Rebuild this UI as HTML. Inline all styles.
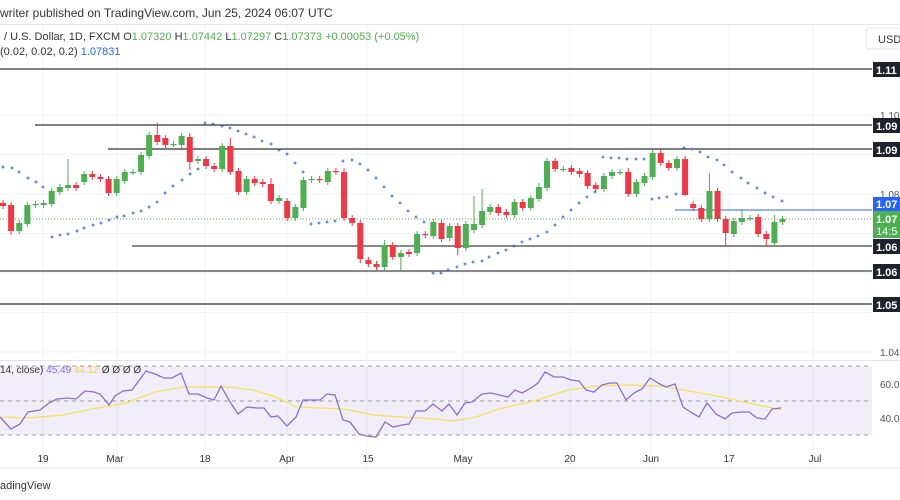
<!DOCTYPE html>
<html><head><meta charset="utf-8"><style>
html,body{margin:0;padding:0;background:#fff;width:900px;height:500px;overflow:hidden;font-family:"Liberation Sans","DejaVu Sans",sans-serif}
svg{position:absolute;left:0;top:0}
</style></head><body>
<svg id="s" width="900" height="500" viewBox="0 0 900 500" xmlns="http://www.w3.org/2000/svg" font-family="Liberation Sans, DejaVu Sans, sans-serif">
<text x="0" y="17" font-size="12" fill="#333">writer published on TradingView.com, Jun 25, 2024 06:07 UTC</text>
<line x1="0" y1="24.5" x2="900" y2="24.5" stroke="#e6e6e6"/>
<g id="grid" stroke="#f0f3fa" stroke-width="1"></g>
<line x1="0" y1="219" x2="872" y2="219" stroke="#4caf50" stroke-dasharray="1,2" stroke-width="1"/>
<g stroke-width="1.3">
<line x1="0" y1="69" x2="872" y2="69" stroke="#333"/>
<line x1="35" y1="125" x2="872" y2="125" stroke="#333"/>
<line x1="108" y1="149" x2="872" y2="149" stroke="#333"/>
<line x1="132" y1="246" x2="872" y2="246" stroke="#888" stroke-width="2"/>
<line x1="0" y1="271" x2="872" y2="271" stroke="#888" stroke-width="2"/>
<line x1="0" y1="304" x2="872" y2="304" stroke="#333"/>
<line x1="675" y1="210" x2="872" y2="210" stroke="#90b4f5" stroke-width="2"/>
</g>
<g id="c"></g>
<g id="d" fill="#2962ff"></g>
<text x="4" y="40" font-size="11" fill="#333">/ U.S. Dollar, 1D, FXCM  O<tspan fill="#4caf50">1.07320</tspan>  H<tspan fill="#4caf50">1.07442</tspan>  L<tspan fill="#4caf50">1.07297</tspan>  C<tspan fill="#4caf50">1.07373</tspan>  <tspan fill="#4caf50">+0.00053 (+0.05%)</tspan></text>
<text x="0" y="55" font-size="11" fill="#333">(0.02, 0.02, 0.2)  <tspan fill="#2962ff">1.07831</tspan></text>
<rect x="866" y="28" width="40" height="21" rx="3" fill="#fff" stroke="#e0e3eb"/>
<text x="878" y="43" font-size="11" fill="#333">USD</text>
<g font-size="10" fill="#555">
<text x="880" y="119">1.10</text><text x="880" y="198">1.08</text><text x="880" y="311">1.05</text><text x="880" y="356">1.04</text>
</g>
<g font-size="11" font-weight="bold" fill="#fff">
<rect x="873" y="62" width="27" height="15" fill="#1e222d"/><text x="876" y="74">1.11</text>
<rect x="873" y="118" width="27" height="15" fill="#1e222d"/><text x="876" y="130">1.09</text>
<rect x="873" y="142" width="27" height="15" fill="#1e222d"/><text x="876" y="154">1.09</text>
<rect x="873" y="197" width="27" height="14" fill="#2962ff"/><text x="876" y="208">1.07</text>
<rect x="873" y="211" width="27" height="27" fill="#4caf50"/><text x="876" y="223">1.07</text><text x="876" y="235" font-weight="normal">14:5</text>
<rect x="873" y="239" width="27" height="15" fill="#1e222d"/><text x="876" y="251">1.06</text>
<rect x="873" y="264" width="27" height="15" fill="#1e222d"/><text x="876" y="276">1.06</text>
<rect x="873" y="297" width="27" height="15" fill="#1e222d"/><text x="876" y="309">1.05</text>
</g>
<line x1="0" y1="360.5" x2="900" y2="360.5" stroke="#e0e3eb"/>
<rect x="0" y="366" width="872" height="69" fill="#7e57c2" fill-opacity="0.1"/>
<g stroke="#999" stroke-dasharray="4,4">
<line x1="0" y1="366" x2="872" y2="366"/><line x1="0" y1="401" x2="872" y2="401"/><line x1="0" y1="435" x2="872" y2="435"/>
</g>
<polyline id="ma" fill="none" stroke="#f5e25b" stroke-width="1.3"/>
<polyline id="rsi" fill="none" stroke="#8c6fd6" stroke-width="1.3"/>
<text x="0" y="373" font-size="10" fill="#333">14, close)  <tspan fill="#8c6fd6">45.49</tspan>  <tspan fill="#f0d84a">44.12</tspan>  Ø  Ø  Ø  Ø</text>
<g font-size="10" fill="#555"><text x="880" y="388">60.00</text><text x="880" y="422">40.00</text></g>
<line x1="0" y1="468" x2="900" y2="468" stroke="#e0e3eb"/>
<g font-size="10" fill="#333" text-anchor="middle">
<text x="43" y="462">19</text><text x="115" y="462">Mar</text><text x="205" y="462">18</text><text x="287" y="462">Apr</text><text x="368" y="462">15</text><text x="463" y="462">May</text><text x="570" y="462">20</text><text x="651" y="462">Jun</text><text x="729" y="462">17</text><text x="815" y="462">Jul</text>
</g>
<text x="0" y="489" font-size="11" fill="#333">adingView</text>
</svg>
<script>
var NS="http://www.w3.org/2000/svg";
function el(p,t,a){var e=document.createElementNS(NS,t);for(var k in a)e.setAttribute(k,a[k]);p.appendChild(e);return e;}
var g=document.getElementById('grid');
[43,117,205,287,367,463,570,651,729,813].forEach(function(x){el(g,'line',{x1:x,y1:25,x2:x,y2:468});});
[115,154.5,194,233.5,273,312.5,352].forEach(function(y){el(g,'line',{x1:0,y1:y,x2:872,y2:y});});
var C=[[203,206],[205,231],[231,223],[224,205],[205,204],[205,203],[204,191],[192,187],[188,185],[185,188],[182,174],[174,177],[177,179],[179,193],[193,179],[181,172],[172,172],[172,155],[156,135],[135,142],[138,145],[144,144],[145,136],[137,162],[161,159],[159,166],[166,169],[169,146],[146,172],[171,192],[192,179],[179,183],[182,184],[184,201],[201,198],[201,218],[218,207],[208,180],[180,179],[179,180],[182,171],[171,172],[172,218],[218,223],[223,259],[260,264],[264,267],[267,245],[245,257],[257,253],[252,254],[253,234],
[234,235],[236,222],[223,239],[238,226],[226,248],[248,224],[230,224],[225,211],[212,207],[207,213],[212,215],[215,202],[202,208],[208,198],[199,187],[188,161],[161,169],[169,169],[168,172],[171,174],[173,186],[185,189],[189,176],[176,172],[172,172],[172,194],[194,182],[183,176],[177,153],[153,163],[163,168],[168,159],[159,195],[204,208],[208,219],[219,191],[191,219],[219,233],[234,221],[222,218],[218,218],[217,234],[234,239],[243,222],[222,219]];
var H={8:159,19:123,28:138,23:133,33:178,42:168,47:240,58:196,59:189,81:148,87:173,91:209,95:215,77:168,66:183};
var L={1:235,13:196,23:170,29:195,44:263,46:270,47:270,49:270,89:246,94:246,56:255,84:196};
var cg=document.getElementById('c');
C.forEach(function(v,i){var x=3+i*8.12,o=v[0],c=v[1],up=c<=o,col=up?'#4caf50':'#f23645';
var t=Math.min(o,c),b=Math.max(o,c);var hi=H[i]||t-3,lo=L[i]||b+3;
el(cg,'line',{x1:x,y1:hi,x2:x,y2:lo,stroke:col,'stroke-width':1});
el(cg,'rect',{x:x-3,y:t,width:6,height:Math.max(b-t,1.2),fill:col});});
var D=[[3,167],[12,168],[19,172],[28,178],[36,182],[43,187],[52,237],[60,235],[68,234],[77,231],[84,228],[93,225],[101,223],[109,220],[117,217],[124,216],[133,213],[141,211],[149,207],[157,202],[165,193],[173,186],[182,180],[190,174],[198,169],[205,123],[213,124],[222,126],[230,128],[238,131],[246,134],[254,137],[262,141],[271,144],[279,150],[287,154],[295,163],[303,172],[311,224],[319,223],[327,222],[335,221],[343,161],[352,160],[360,164],[368,170],[376,178],[384,187],[392,196],[400,203],[408,211],[416,217],[424,222],[433,273],[441,273],[448,270],[457,267],[465,264],[473,262],[482,261],[489,257],[498,253],[506,250],[514,246],[522,242],[530,239],[538,236],[547,232],[555,225],[563,217],[571,210],[579,203],[587,197],[595,192],[603,157],[611,158],[619,158],[627,159],[636,159],[644,159],[652,199],[659,198],[667,197],[676,194],[684,148],[692,149],[700,152],[708,157],[717,160],[724,165],[732,172],[741,178],[748,183],[757,188],[765,193],[773,197],[782,201]];
var dg=document.getElementById('d');D.forEach(function(p){el(dg,'rect',{x:p[0]-1.5,y:p[1]-0.5,width:3,height:1});el(dg,'rect',{x:p[0]-0.5,y:p[1]-1.5,width:1,height:3});});
var R=[[0,417],[11,429],[20,424],[28,412],[40,410],[49,403],[57,399],[67,398],[76,399],[85,391],[94,392],[100,394],[109,405],[115,396],[123,391],[132,390],[146,371],[155,374],[164,378],[172,378],[181,373],[189,394],[198,394],[207,398],[214,400],[221,386],[230,402],[238,414],[247,407],[257,408],[264,408],[271,417],[278,416],[287,426],[296,417],[303,400],[313,400],[320,400],[327,394],[335,395],[343,420],[350,422],[359,434],[367,436],[376,437],[385,422],[393,427],[402,425],[409,424],[416,411],[425,411],[433,404],[442,411],[449,404],[457,415],[465,403],[472,402],[482,394],[491,393],[499,395],[508,397],[515,390],[522,393],[531,388],[538,383],[545,372],[554,377],[563,377],[571,380],[579,381],[586,390],[594,392],[602,385],[610,383],[617,383],[626,400],[634,393],[642,389],[650,378],[658,383],[666,387],[675,384],[683,407],[692,413],[699,417],[707,403],[716,414],[725,419],[732,413],[741,412],[749,412],[757,418],[765,419],[772,409],[781,408]];
var M=[[0,417],[29,418],[63,415],[92,409],[126,403],[155,392],[184,387],[212,387],[230,387],[253,390],[276,397],[296,407],[321,408],[344,409],[373,415],[402,417],[436,419],[453,421],[476,417],[499,409],[534,401],[568,390],[597,386],[626,385],[660,386],[689,391],[712,395],[735,400],[758,405],[781,410]];
document.getElementById('rsi').setAttribute('points',R.map(function(p){return p.join(',')}).join(' '));
document.getElementById('ma').setAttribute('points',M.map(function(p){return p.join(',')}).join(' '));
</script>
</body></html>
